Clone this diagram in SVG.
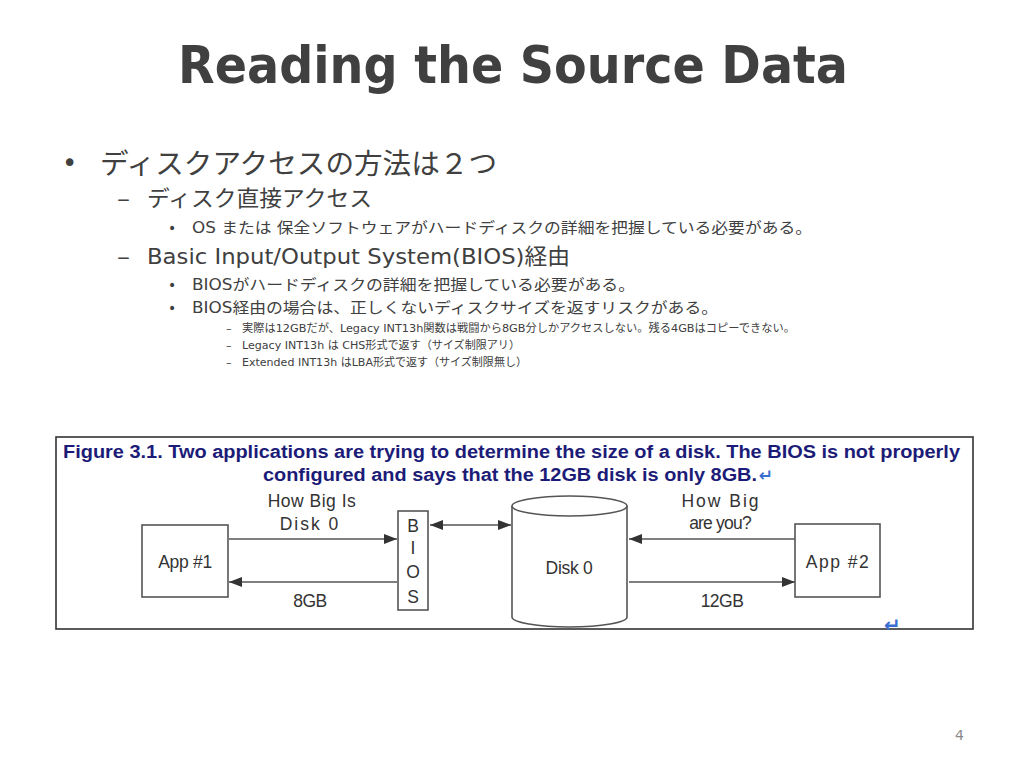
<svg xmlns="http://www.w3.org/2000/svg" width="1024" height="768" viewBox="0 0 1024 768">
<defs>
<style>
.jp{font-family:"DejaVu Sans","Noto Sans CJK JP",sans-serif;fill:#404040}
.cap{font-family:"Liberation Sans",Arial,sans-serif;font-weight:bold;fill:#1c1c78;font-size:17.5px}
.lbl{font-family:"Liberation Sans",Arial,sans-serif;fill:#333;font-size:17.5px}
.box{fill:#fff;stroke:#555;stroke-width:1.6}
.ln{stroke:#555;stroke-width:1.6;fill:none}
.ret{font-family:"DejaVu Sans",sans-serif;font-weight:bold;fill:#3a6fd0}
</style>
<marker id="ah" viewBox="0 0 13 11" refX="13" refY="5.5" markerWidth="13" markerHeight="11" markerUnits="userSpaceOnUse" orient="auto-start-reverse">
<path d="M0,0.5 L13,5.5 L0,10.5 Z" fill="#333"/>
</marker>
</defs>
<rect width="1024" height="768" fill="#fff"/>
<text x="178" y="83" font-family="DejaVu Sans,Verdana,sans-serif" font-weight="bold" font-size="52" fill="#404040" textLength="670" lengthAdjust="spacingAndGlyphs">Reading the Source Data</text>

<g id="bullets">
<text class="jp" x="62" y="172" font-size="26">•</text>
<text class="jp" x="100" y="174" font-size="28" textLength="397" lengthAdjust="spacingAndGlyphs">ディスクアクセスの方法は２つ</text>
<text class="jp" x="117" y="206" font-size="22" textLength="13" lengthAdjust="spacingAndGlyphs">–</text>
<text class="jp" x="147" y="206" font-size="22" textLength="225" lengthAdjust="spacingAndGlyphs">ディスク直接アクセス</text>
<text class="jp" x="168" y="233" font-size="14">•</text>
<text class="jp" x="192" y="233" font-size="15" textLength="620" lengthAdjust="spacingAndGlyphs">OS または 保全ソフトウェアがハードディスクの詳細を把握している必要がある。</text>
<text class="jp" x="117" y="264" font-size="22" textLength="13" lengthAdjust="spacingAndGlyphs">–</text>
<text class="jp" x="147" y="264" font-size="22" textLength="423" lengthAdjust="spacingAndGlyphs">Basic Input/Output System(BIOS)経由</text>
<text class="jp" x="168" y="290" font-size="14">•</text>
<text class="jp" x="192" y="290" font-size="15" textLength="443" lengthAdjust="spacingAndGlyphs">BIOSがハードディスクの詳細を把握している必要がある。</text>
<text class="jp" x="168" y="313" font-size="14">•</text>
<text class="jp" x="192" y="313" font-size="15" textLength="526" lengthAdjust="spacingAndGlyphs">BIOS経由の場合は、正しくないディスクサイズを返すリスクがある。</text>
<text class="jp" x="226" y="332" font-size="11">–</text>
<text class="jp" x="242" y="332" font-size="11" textLength="553" lengthAdjust="spacingAndGlyphs">実際は12GBだが、Legacy INT13h関数は戦闘から8GB分しかアクセスしない。残る4GBはコピーできない。</text>
<text class="jp" x="226" y="349" font-size="11">–</text>
<text class="jp" x="242" y="349" font-size="11" textLength="278" lengthAdjust="spacingAndGlyphs">Legacy INT13h は CHS形式で返す（サイズ制限アリ）</text>
<text class="jp" x="226" y="366" font-size="11">–</text>
<text class="jp" x="242" y="366" font-size="11" textLength="285" lengthAdjust="spacingAndGlyphs">Extended INT13h はLBA形式で返す（サイズ制限無し）</text>
</g>

<g id="figure">
<rect x="56" y="437" width="917" height="192" fill="#fff" stroke="#333" stroke-width="1.6"/>
<text class="cap" x="63" y="458" textLength="897" lengthAdjust="spacingAndGlyphs">Figure 3.1. Two applications are trying to determine the size of a disk. The BIOS is not properly</text>
<text class="cap" x="263" y="481" textLength="494" lengthAdjust="spacingAndGlyphs">configured and says that the 12GB disk is only 8GB.</text>
<text class="ret" x="759" y="481" font-size="17">↵</text>
<text class="ret" x="884" y="632" font-size="20">↵</text>
</g>

<g id="connectors">
<line class="ln" x1="229" y1="539" x2="397" y2="539" marker-end="url(#ah)"/>
<line class="ln" x1="397" y1="582" x2="229" y2="582" marker-end="url(#ah)"/>
<line class="ln" x1="430" y1="525" x2="511" y2="525" marker-start="url(#ah)" marker-end="url(#ah)"/>
<line class="ln" x1="795" y1="539" x2="629" y2="539" marker-end="url(#ah)"/>
<line class="ln" x1="629" y1="582" x2="795" y2="582" marker-end="url(#ah)"/>
<text class="lbl" x="312" y="507" text-anchor="middle" letter-spacing="0.5">How Big Is</text>
<text class="lbl" x="310" y="530" text-anchor="middle" letter-spacing="2">Disk 0</text>
<text class="lbl" x="310" y="607" text-anchor="middle" letter-spacing="-0.5">8GB</text>
<text class="lbl" x="721" y="507" text-anchor="middle" letter-spacing="2">How Big</text>
<text class="lbl" x="720" y="529" text-anchor="middle" letter-spacing="-0.8">are you?</text>
<text class="lbl" x="722" y="607" text-anchor="middle" letter-spacing="-0.5">12GB</text>
</g>

<g id="app1">
<rect class="box" x="142" y="525" width="86" height="72"/>
<text class="lbl" x="185" y="568" text-anchor="middle" letter-spacing="-0.3">App #1</text>
</g>
<g id="bios">
<rect class="box" x="398" y="511" width="30" height="99"/>
<text class="lbl" x="413" y="532" text-anchor="middle">B</text>
<text class="lbl" x="413" y="554" text-anchor="middle">I</text>
<text class="lbl" x="413" y="578" text-anchor="middle">O</text>
<text class="lbl" x="413" y="603" text-anchor="middle">S</text>
</g>
<g id="disk0">
<path class="box" d="M512,506 L512,617 A57.5,10 0 0 0 627,617 L627,506"/>
<ellipse class="box" cx="569.5" cy="506" rx="57.5" ry="10"/>
<text class="lbl" x="569" y="574" text-anchor="middle" letter-spacing="-0.3">Disk 0</text>
</g>
<g id="app2">
<rect class="box" x="795" y="524" width="85" height="73"/>
<text class="lbl" x="838" y="568" text-anchor="middle" letter-spacing="1.5">App  #2</text>
</g>

<text x="955" y="740" font-family="DejaVu Sans,sans-serif" font-size="14" fill="#8a8a8a">4</text>
</svg>
